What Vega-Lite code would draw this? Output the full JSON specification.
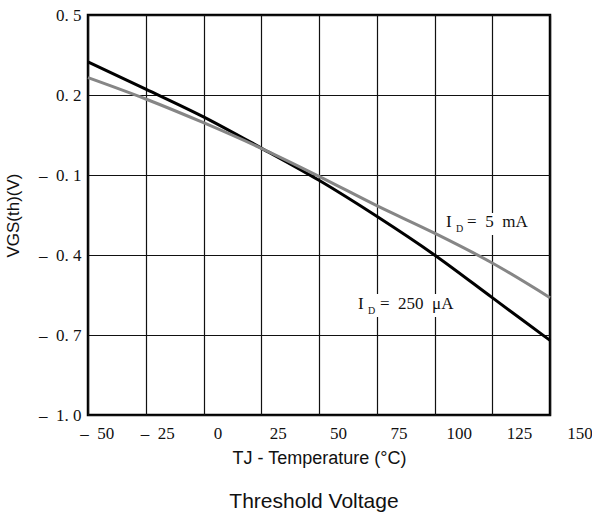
{
  "$schema": "https://vega.github.io/schema/vega-lite/v6.json",
  "width": 462,
  "height": 400,
  "autosize": "none",
  "padding": {"left": 88, "top": 15, "right": 42, "bottom": 103},
  "background": "white",
  "config": {
    "view": {"stroke": "black", "strokeWidth": 2.5},
    "axis": {"labelFont": "Liberation Serif", "labelFontSize": 17, "labelColor": "#111", "titleFont": "Liberation Sans", "titleFontWeight": "normal", "titleColor": "#111"}
  },
  "title": {"text": "Threshold Voltage", "orient": "bottom", "offset": 24, "font": "Liberation Sans", "fontSize": 21, "fontWeight": "normal", "color": "#111", "dx": -5},
  "datasets": {
    "curves": [
      {"t": -50, "v": 0.324, "series": "250uA"},
      {"t": -25, "v": 0.222, "series": "250uA"},
      {"t": 0, "v": 0.118, "series": "250uA"},
      {"t": 25, "v": 0.001, "series": "250uA"},
      {"t": 50, "v": -0.12, "series": "250uA"},
      {"t": 75, "v": -0.255, "series": "250uA"},
      {"t": 100, "v": -0.4, "series": "250uA"},
      {"t": 125, "v": -0.56, "series": "250uA"},
      {"t": 150, "v": -0.72, "series": "250uA"},
      {"t": -50, "v": 0.265, "series": "5mA"},
      {"t": -25, "v": 0.185, "series": "5mA"},
      {"t": 0, "v": 0.096, "series": "5mA"},
      {"t": 25, "v": 0.0, "series": "5mA"},
      {"t": 50, "v": -0.105, "series": "5mA"},
      {"t": 75, "v": -0.215, "series": "5mA"},
      {"t": 100, "v": -0.318, "series": "5mA"},
      {"t": 125, "v": -0.43, "series": "5mA"},
      {"t": 150, "v": -0.56, "series": "5mA"}
    ],
    "boxes": [
      {"x1": 103.2, "x2": 138.3, "y1": -0.2425, "y2": -0.325},
      {"x1": 65.6, "x2": 108.9, "y1": -0.546, "y2": -0.6325}
    ],
    "mainText": [
      {"t": 105, "v": -0.278, "txt": "I"},
      {"t": 114.1, "v": -0.278, "txt": "=\u00a0\u00a05\u00a0\u00a0mA"},
      {"t": 66.9, "v": -0.5856, "txt": "I"},
      {"t": 76.4, "v": -0.5856, "txt": "=\u00a0\u00a0250\u00a0\u00a0μA"}
    ],
    "subText": [
      {"t": 109.3, "v": -0.3025, "txt": "D"},
      {"t": 71.2, "v": -0.61, "txt": "D"}
    ],
    "ticks": [
      {"lt": -50}, {"lt": -25}, {"lt": 0}, {"lt": 25}, {"lt": 50}, {"lt": 75}, {"lt": 100}, {"lt": 125}, {"lt": 150}
    ]
  },
  "layer": [
    {
      "layer": [
        {
          "data": {"name": "boxes"},
          "mark": {"type": "rect", "fill": "white", "stroke": null},
          "encoding": {
            "x": {"field": "x1", "type": "quantitative", "scale": {"domain": [-50, 150], "nice": false, "zero": false}, "axis": {"values": [-50, -25, 0, 25, 50, 75, 100, 125, 150], "grid": true, "gridColor": "#111", "gridWidth": 1.2, "gridOpacity": 1, "labels": false, "ticks": false, "domain": false, "title": null}},
            "x2": {"field": "x2"},
            "y": {"field": "y1", "type": "quantitative", "scale": {"domain": [-1, 0.5], "nice": false, "zero": false}, "axis": {"values": [-1, -0.7, -0.4, -0.1, 0.2, 0.5], "grid": true, "gridColor": "#111", "gridWidth": 1.2, "gridOpacity": 1, "ticks": false, "domain": false, "labelPadding": 7, "labelExpr": "(datum.value < -0.001 ? '–\u2002' : '') + replace(format(abs(datum.value), '.1f'), '.', '.\u00a0')", "title": "VGS(th)(V)", "titleFontSize": 17, "titlePadding": 16}},
            "y2": {"field": "y2"}
          }
        },
        {
          "data": {"name": "curves"},
          "mark": {"type": "line", "strokeWidth": 3, "interpolate": "monotone"},
          "encoding": {
            "x": {"field": "t", "type": "quantitative", "scale": {"domain": [-50, 150], "nice": false, "zero": false}, "axis": {"values": [-50, -25, 0, 25, 50, 75, 100, 125, 150], "grid": true, "gridColor": "#111", "gridWidth": 1.2, "gridOpacity": 1, "labels": false, "ticks": false, "domain": false, "title": null}},
            "y": {"field": "v", "type": "quantitative", "scale": {"domain": [-1, 0.5], "nice": false, "zero": false}},
            "color": {"field": "series", "type": "nominal", "scale": {"domain": ["250uA", "5mA"], "range": ["#000000", "#868686"]}, "legend": null}
          }
        },
        {
          "data": {"name": "mainText"},
          "mark": {"type": "text", "align": "left", "baseline": "middle", "font": "Liberation Serif", "fontSize": 17, "color": "#111"},
          "encoding": {
            "x": {"field": "t", "type": "quantitative"},
            "y": {"field": "v", "type": "quantitative"},
            "text": {"field": "txt"}
          }
        },
        {
          "data": {"name": "subText"},
          "mark": {"type": "text", "align": "left", "baseline": "middle", "font": "Liberation Serif", "fontSize": 10, "color": "#111"},
          "encoding": {
            "x": {"field": "t", "type": "quantitative"},
            "y": {"field": "v", "type": "quantitative"},
            "text": {"field": "txt"}
          }
        }
      ]
    },
    {
      "data": {"name": "ticks"},
      "mark": {"type": "point", "opacity": 0},
      "encoding": {
        "x": {"field": "lt", "type": "quantitative", "scale": {"domain": [-53.66, 150], "range": [0, 491.4], "nice": false, "zero": false}, "axis": {"orient": "bottom", "values": [-50, -25, 0, 25, 50, 75, 100, 125, 150], "grid": false, "ticks": false, "domain": false, "labelPadding": 10, "labelFlush": false, "labelOverlap": false, "labelExpr": "datum.value < 0 ? '–\u2002' + abs(datum.value) : '' + datum.value", "title": "TJ - Temperature (°C)", "titleFontSize": 18, "titlePadding": 8, "titleX": 231}}
      }
    }
  ],
  "resolve": {"scale": {"x": "independent"}, "axis": {"x": "independent"}}
}
